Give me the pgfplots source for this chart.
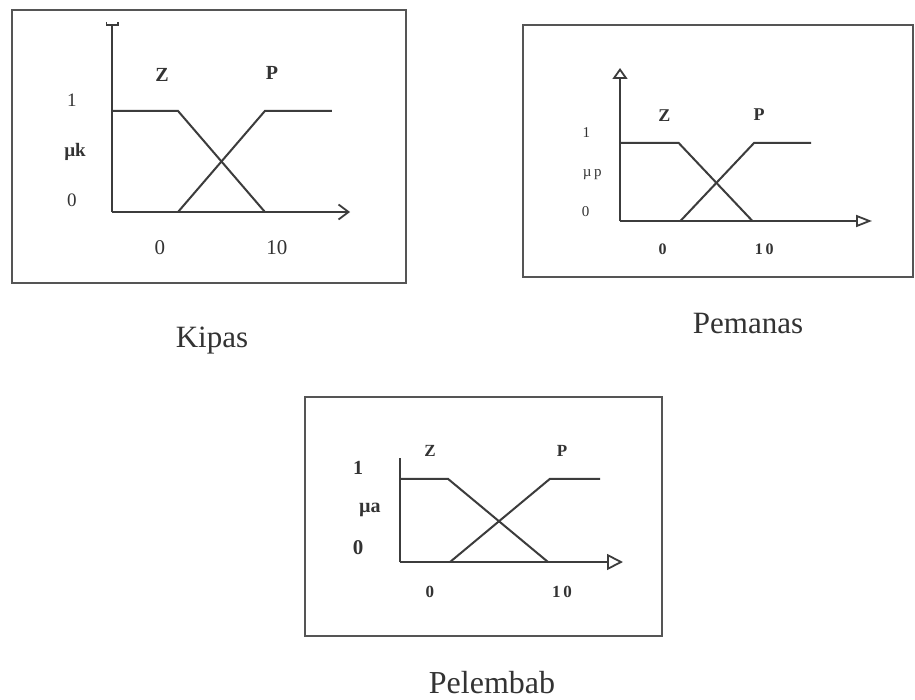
\documentclass[border=0pt]{standalone}
\usepackage{fontspec}
\setmainfont{Liberation Serif}
\usepackage{pgfplots}
\pgfplotsset{compat=1.18}
\usetikzlibrary{arrows.meta}
\definecolor{ink}{HTML}{333333}
\definecolor{ln}{HTML}{3C3C3C}
\definecolor{bx}{HTML}{555555}
\newcommand\fs[1]{\fontsize{#1}{#1}\selectfont}
\pgfplotsset{fz/.style={
  scale only axis, anchor=south west, clip=false,
  axis lines=left, ticks=none, ymin=0,
  axis line style={color=ln, line width=0.9pt},
}, mf/.style={ln, line width=1pt, mark=none}}
\begin{document}
\begin{tikzpicture}
\path[fill=white] (0,0) rectangle (457.5pt,-350pt);
% boxes
\draw[bx, line width=1.1pt] (6pt,-5pt) rectangle (203pt,-141.5pt);
\draw[bx, line width=1.1pt] (261.5pt,-12.5pt) rectangle (456.5pt,-138.5pt);
\draw[bx, line width=1.1pt] (152.5pt,-198.5pt) rectangle (331pt,-318pt);
% captions
\node[ink, anchor=base, font=\fs{15.5pt}] at (106pt,-173.5pt) {Kipas};
\node[ink, anchor=base, font=\fs{15.5pt}] at (374pt,-166.5pt) {Pemanas};
\node[ink, anchor=base, font=\fs{16pt}] at (246pt,-346.5pt) {Pelembab};

% Kipas
\begin{axis}[fz, at={(56pt,-106pt)}, width=119pt, height=95pt,
  xmin=-4.10, xmax=16.24, ymax=1.88,
  x axis line style={-{Straight Barb[length=5pt,width=7.5pt]}},
  y axis line style={-{Bracket[reversed,width=6.5pt,length=1.5pt]}}]
\addplot[mf] coordinates {(-4.10,1) (1.54,1) (8.97,0)};
\addplot[mf] coordinates {(1.54,0) (8.97,1) (14.70,1)};
\node[ink, font=\bfseries\fs{10pt}] at (axis cs:0.17,1.356) {Z};
\node[ink, font=\bfseries\fs{10pt}] at (axis cs:9.57,1.376) {P};
\node[ink, font=\fs{9.5pt}] at (axis cs:-7.52,1.109) {1};
\node[ink, font=\bfseries\fs{9.5pt}] at (axis cs:-7.26,0.594) {µk};
\node[ink, font=\fs{9.5pt}] at (axis cs:-7.52,0.119) {0};
\node[ink, font=\fs{10.5pt}] at (axis cs:0,-0.356) {0};
\node[ink, font=\fs{10.5pt}] at (axis cs:10,-0.356) {10};
\end{axis}

% Pemanas
\begin{axis}[fz, at={(310pt,-110.5pt)}, width=126pt, height=76.5pt,
  xmin=-4.21, xmax=20.62, ymax=1.96,
  x axis line style={-{Triangle[open,length=8pt,width=6pt]}},
  y axis line style={-{Triangle[open,length=5.5pt,width=7.5pt]}}]
\addplot[mf] coordinates {(-4.21,1) (1.57,1) (8.84,0)};
\addplot[mf] coordinates {(1.74,0) (9.00,1) (14.63,1)};
\node[ink, font=\bfseries\fs{9pt}] at (axis cs:0.17,1.346) {Z};
\node[ink, font=\bfseries\fs{9pt}] at (axis cs:9.50,1.359) {P};
\node[ink, font=\fs{7.5pt}] at (axis cs:-7.52,1.128) {1};
\node[ink, font=\fs{7.5pt}] at (axis cs:-6.94,0.590) {µ\,p};
\node[ink, font=\fs{7.5pt}] at (axis cs:-7.60,0.115) {0};
\node[ink, font=\bfseries\fs{8pt}] at (axis cs:0,-0.359) {0};
\node[ink, font=\bfseries\fs{8pt}] at (axis cs:10,-0.359) {1\,0};
\end{axis}

% Pelembab
\begin{axis}[fz, at={(200pt,-281pt)}, width=111.5pt, height=52pt,
  xmin=-2.27, xmax=14.62, ymax=1.25,
  x axis line style={-{Triangle[open,length=8pt,width=8pt]}},
  y axis line style={-}]
\addplot[mf] coordinates {(-2.27,1) (1.36,1) (8.94,0)};
\addplot[mf] coordinates {(1.52,0) (9.09,1) (12.88,1)};
\node[ink, font=\bfseries\fs{8.5pt}] at (axis cs:0,1.337) {Z};
\node[ink, font=\bfseries\fs{8.5pt}] at (axis cs:10,1.337) {P};
\node[ink, font=\bfseries\fs{10pt}] at (axis cs:-5.45,1.133) {1};
\node[ink, font=\bfseries\fs{10pt}] at (axis cs:-4.55,0.627) {µa};
\node[ink, font=\bfseries\fs{10.5pt}] at (axis cs:-5.45,0.169) {0};
\node[ink, font=\bfseries\fs{8.5pt}] at (axis cs:0,-0.361) {0};
\node[ink, font=\bfseries\fs{8.5pt}] at (axis cs:10,-0.361) {1\,0};
\end{axis}
\end{tikzpicture}
\end{document}
